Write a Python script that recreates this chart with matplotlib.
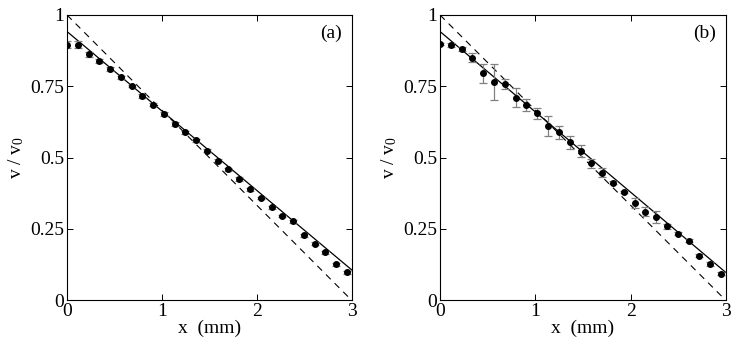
import numpy as np
import matplotlib.pyplot as plt

plt.rcParams['font.family'] = ['Liberation Serif', 'DejaVu Serif']
plt.rcParams['mathtext.fontset'] = 'custom'
plt.rcParams['mathtext.rm'] = 'Liberation Serif'
plt.rcParams['mathtext.it'] = 'Liberation Serif'

# positions along x (mm), same for both panels
x_pos = [0.0, 0.115, 0.228, 0.34, 0.453, 0.567, 0.68, 0.794, 0.907, 1.02,
         1.134, 1.247, 1.36, 1.474, 1.588, 1.70, 1.814, 1.927, 2.04, 2.154,
         2.268, 2.38, 2.494, 2.607, 2.72, 2.834, 2.947]

# panel (a)
va = [0.895, 0.895, 0.862, 0.838, 0.810, 0.781, 0.751, 0.716, 0.685, 0.653,
      0.618, 0.588, 0.561, 0.524, 0.489, 0.458, 0.423, 0.389, 0.358, 0.326,
      0.295, 0.276, 0.227, 0.198, 0.168, 0.125, 0.098]
ea = [0.012, 0.012, 0.008, 0.006, 0.007, 0.005, 0.005, 0.008, 0.006, 0.006,
      0.006, 0.005, 0.005, 0.005, 0.006, 0.006, 0.007, 0.005, 0.005, 0.005,
      0.005, 0.005, 0.005, 0.005, 0.005, 0.005, 0.005]

# panel (b)
vb = [0.898, 0.895, 0.881, 0.850, 0.795, 0.765, 0.758, 0.710, 0.684, 0.655,
      0.612, 0.588, 0.553, 0.523, 0.480, 0.447, 0.412, 0.379, 0.341, 0.310,
      0.290, 0.259, 0.232, 0.208, 0.156, 0.127, 0.093]
eb = [0.005, 0.007, 0.008, 0.015, 0.032, 0.062, 0.019, 0.033, 0.022, 0.020,
      0.035, 0.022, 0.023, 0.020, 0.016, 0.016, 0.006, 0.005, 0.018, 0.016,
      0.021, 0.009, 0.005, 0.006, 0.006, 0.006, 0.005]

# model lines
solid_x = [0.0, 3.0]
solid_a = [0.942, 0.105]
solid_b = [0.942, 0.096]
dash_x = [0.0, 2.97]
dash_y = [1.0, 0.008]

fig = plt.figure(figsize=(7.41, 3.47), dpi=100)
ax_a = fig.add_axes([0.0904, 0.1354, 0.3846, 0.8214])
ax_b = fig.add_axes([0.5938, 0.1354, 0.3860, 0.8214])

for ax, v, e, solid, tag in [(ax_a, va, ea, solid_a, '(a)'),
                             (ax_b, vb, eb, solid_b, '(b)')]:
    ax.plot(dash_x, dash_y, color='black', lw=0.8, ls=(0, (6, 5)))
    ax.plot(solid_x, solid, color='black', lw=0.9)
    ax.errorbar(x_pos, v, yerr=e, fmt='none', ecolor='#808080',
                elinewidth=0.9, capsize=3, capthick=0.9)
    ax.plot(x_pos, v, 'o', color='black', ms=4, ls='none')
    ax.set_xlim(0, 3)
    ax.set_ylim(0, 1)
    ax.set_xticks([0, 1, 2, 3])
    ax.set_xticklabels(['0', '1', '2', '3'])
    ax.set_yticks([0, 0.25, 0.5, 0.75, 1])
    ax.set_yticklabels(['0', '0.25', '0.5', '0.75', '1'])
    ax.tick_params(direction='in', top=True, right=True, labelsize=14,
                   length=4, width=0.7, pad=2)
    for s in ax.spines.values():
        s.set_linewidth(0.8)
    ax.set_xlabel('x  (mm)', fontsize=14, labelpad=0)
    ax.set_ylabel('v / v$_0$', fontsize=14, labelpad=3)
    ax.text(0.965, 0.935, tag, transform=ax.transAxes, ha='right',
            va='center', fontsize=14)

fig.savefig('out.png', dpi=100)
